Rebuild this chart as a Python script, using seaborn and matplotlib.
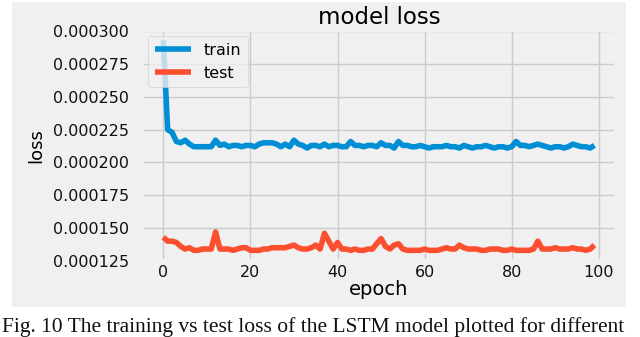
import matplotlib
matplotlib.use("Agg")

import matplotlib.pyplot as plt
import numpy as np
import pandas as pd
import seaborn as sns
from matplotlib.patches import Rectangle
from matplotlib.ticker import FormatStrFormatter, MultipleLocator

# loss values, in units of 1e-6
train_loss = [
    293, 225, 223, 216, 215, 217, 214, 212, 212, 212,
    212, 212, 217, 213, 214, 212, 213, 213, 212, 213,
    213, 212, 214, 215, 215, 215, 214, 212, 214, 212,
    217, 214, 213, 211, 213, 213, 212, 214, 212, 213,
    213, 212, 212, 216, 213, 213, 212, 213, 213, 212,
    215, 213, 213, 211, 216, 213, 213, 212, 212, 213,
    212, 211, 212, 212, 212, 213, 212, 212, 211, 213,
    212, 211, 212, 212, 213, 212, 211, 212, 212, 211,
    212, 216, 213, 213, 212, 213, 214, 213, 212, 211,
    212, 212, 211, 212, 214, 213, 212, 212, 211, 213,
]
test_loss = [
    143, 140, 140, 139, 136, 134, 135, 133, 133, 134,
    134, 134, 147, 134, 134, 134, 133, 134, 135, 135,
    133, 133, 133, 134, 134, 135, 135, 135, 135, 136,
    137, 135, 134, 134, 135, 137, 134, 146, 140, 134,
    139, 134, 134, 133, 134, 133, 133, 134, 134, 138,
    142, 136, 134, 137, 138, 134, 133, 133, 133, 133,
    134, 133, 133, 133, 134, 135, 134, 134, 137, 135,
    134, 134, 134, 133, 133, 134, 134, 134, 133, 133,
    134, 133, 133, 133, 133, 134, 140, 134, 134, 134,
    135, 134, 134, 134, 135, 134, 134, 133, 134, 137,
]
epochs = list(range(len(train_loss)))
series_names = ["train", "test"]
caption = "Fig. 10 The training vs test loss of the LSTM model plotted for different"

df = pd.DataFrame({
    "epoch": epochs * 2,
    "loss": np.array(train_loss + test_loss) * 1e-6,
    "series": [series_names[0]] * len(train_loss) + [series_names[1]] * len(test_loss),
})

plt.style.use("fivethirtyeight")
plt.rcParams["font.family"] = ["DejaVu Sans"]
fig = plt.figure(figsize=(6.4, 3.37), dpi=100, facecolor="white")
# grey panel of the original figure, sitting on a white page
fig.patches.append(Rectangle((12 / 640, 30 / 337), 614 / 640, 305 / 337,
                             transform=fig.transFigure, facecolor="#f0f0f0",
                             edgecolor="none", zorder=-10))
ax = fig.add_axes([0.2215, 0.226, 0.741, 0.685])
ax.set_zorder(1)

sns.lineplot(data=df, x="epoch", y="loss", hue="series",
             palette=["#008fd5", "#fc4f30"], linewidth=4, ax=ax)

ax.yaxis.set_major_locator(MultipleLocator(0.000025))
ax.yaxis.set_major_formatter(FormatStrFormatter("%.6f"))
ax.tick_params(axis="both", labelsize=11.5, colors="#111111")
ax.tick_params(axis="y", pad=9)
ax.tick_params(axis="x", pad=3)
ax.set_title("model loss", fontsize=16.5, pad=4)
ax.set_xlabel("epoch", fontsize=14, labelpad=0)
ax.set_ylabel("loss", fontsize=13, labelpad=6)
ax.legend(loc="upper left", fontsize=11.5, handlelength=2.3,
          borderaxespad=0.4, frameon=True)

fig.text(0.003, 0.016, caption, family="Liberation Serif", fontsize=15.5,
         ha="left", va="baseline", color="#111111")

fig.savefig("out.png", dpi=100, facecolor="white")
